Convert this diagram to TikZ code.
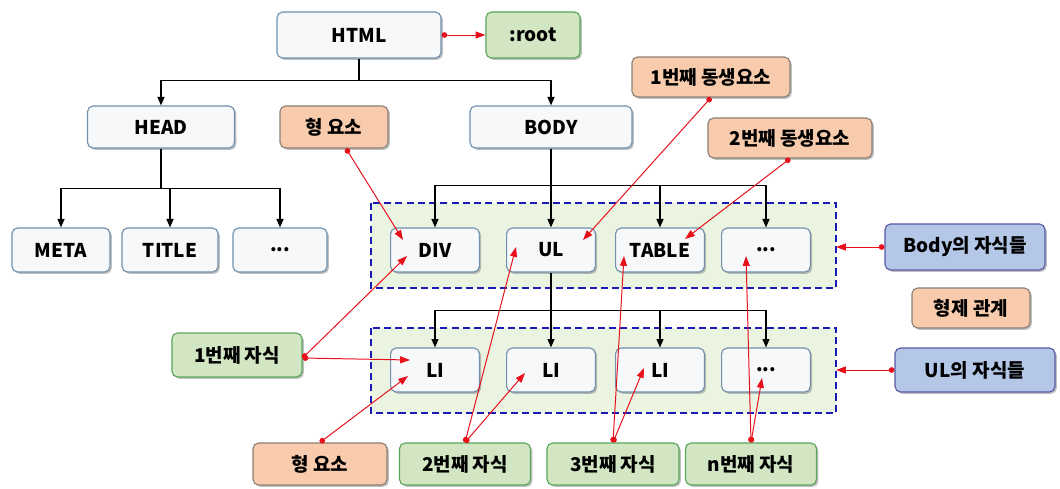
\documentclass[tikz,border=0pt]{standalone}
\usepackage{fontspec}
\setmainfont{Noto Sans CJK KR}
\usetikzlibrary{arrows.meta, shadows, calc}
\definecolor{nodefill}{HTML}{F6F8FA}
\definecolor{nodeline}{HTML}{7090AC}
\definecolor{orangefill}{HTML}{F8CBAD}
\definecolor{greenfill}{HTML}{D3E6C3}
\definecolor{bluefill}{HTML}{B4C7E7}
\definecolor{groupfill}{HTML}{EBF3E1}
\definecolor{groupline}{HTML}{1A1AB4}
\definecolor{linkred}{HTML}{E8101A}

\begin{document}
\begin{tikzpicture}[x=0.025cm, y=-0.025cm,
    elem/.style={draw=nodeline, line width=0.8pt, fill=nodefill, rounded corners=4pt,
      inner sep=0pt, minimum height=1.1cm, font=\fontsize{13.5}{15}\selectfont\bfseries,
      drop shadow={opacity=0.5, shadow xshift=1.3pt, shadow yshift=-1.3pt}},
    orange/.style={elem, fill=orangefill, draw=gray!80!brown},
    green/.style={elem, fill=greenfill, draw=gray!70!green},
    blue/.style={elem, fill=bluefill, draw=gray!70!blue},
    group/.style={draw=groupline, fill=groupfill, line width=1.1pt, dash pattern=on 5pt off 3pt},
    tree/.style={line width=0.8pt, -{Triangle[length=6pt, width=5pt]}},
    link/.style={linkred, line width=0.7pt, {Circle[length=4pt]}-{Triangle[length=7pt, width=5pt]}}]

  \useasboundingbox (0,0) rectangle (1060,488);

  \draw[group] (371,203) rectangle (836,288);
  \draw[group] (371,328) rectangle (836,413);

  \node[elem, minimum width=4.1cm, minimum height=1.15cm] (html) at (359,35) {HTML};
  \node[green, minimum width=2.35cm, minimum height=1.15cm] (root) at (533,35) {:root};

  \node[elem, minimum width=3.675cm, minimum height=1.05cm] (head) at (161,127) {HEAD};
  \node[orange, minimum width=2.7cm, minimum height=1.05cm] (elder) at (334,127) {형 요소};
  \node[elem, minimum width=4.05cm, minimum height=1.05cm] (body) at (551,127) {BODY};
  \node[orange, minimum width=3.95cm, minimum height=1.0cm] (sib1) at (711,77) {1번째 동생요소};
  \node[orange, minimum width=4.1cm, minimum height=1.0cm] (sib2) at (790,138) {2번째 동생요소};

  \node[elem, minimum width=2.45cm] (meta) at (61,250) {META};
  \node[elem, minimum width=2.4cm] (title) at (170,250) {TITLE};
  \node[elem, minimum width=2.35cm] (hmore) at (280,250) {...};

  \node[elem, minimum width=2.22cm] (div) at (435,250) {DIV};
  \node[elem, minimum width=2.22cm] (ul) at (551,250) {UL};
  \node[elem, minimum width=2.22cm] (table) at (660,250) {TABLE};
  \node[elem, minimum width=2.22cm] (bmore) at (766,250) {...};
  \node[blue, minimum width=4.0cm, minimum height=1.15cm] (bodykids) at (965,247) {Body의 자식들};
  \node[orange, minimum width=2.95cm, minimum height=1.0cm] (sibrel) at (971,308) {형제 관계};

  \node[elem, minimum width=2.22cm] (li1) at (435,370) {LI};
  \node[elem, minimum width=2.22cm] (li2) at (551,370) {LI};
  \node[elem, minimum width=2.22cm] (li3) at (660,370) {LI};
  \node[elem, minimum width=2.22cm] (limore) at (766,370) {...};
  \node[blue, minimum width=4.0cm] (ulkids) at (975,370) {UL의 자식들};

  \node[green, minimum width=3.25cm, minimum height=1.1cm] (kid1) at (237,355) {1번째 자식};
  \node[orange, minimum width=3.35cm, minimum height=1.05cm] (elder2) at (320,464) {형 요소};
  \node[green, minimum width=3.275cm, minimum height=1.05cm] (kid2) at (465,464) {2번째 자식};
  \node[green, minimum width=3.3cm, minimum height=1.05cm] (kid3) at (613,464) {3번째 자식};
  \node[green, minimum width=3.275cm, minimum height=1.05cm] (kidn) at (751,464) {n번째 자식};

  \draw[tree] (html.south) -- ++(0,22) coordinate (hb) -| (head);
  \draw[tree] (hb) -| (body);
  \draw[line width=0.8pt] (head.south) -- ++(0,40) coordinate (eb);
  \foreach \c in {meta,title,hmore}
    \draw[tree] (eb) -| (\c);
  \draw[line width=0.8pt] (body.south) -- ++(0,37) coordinate (bb);
  \foreach \c in {div,ul,table,bmore}
    \draw[tree] (bb) -| (\c);
  \draw[line width=0.8pt] (ul.south) -- ++(0,38) coordinate (ub);
  \foreach \c in {li1,li2,li3,limore}
    \draw[tree] (ub) -| (\c);

  \draw[link] (html.east) -- (root.west);
  \draw[link] ($(elder.south)+(12,0)$) -- ($(div)+(-32,-10)$);
  \draw[link] (sib1.south) -- ($(ul)+(32,-10)$);
  \draw[link] (sib2.south) -- ($(table)+(25,-11)$);
  \draw[link] (bodykids.west) -- (bodykids.west -| 836,0);
  \draw[link] (ulkids.west) -- (ulkids.west -| 836,0);
  \draw[link] ($(kid1.east)+(0,3)$) -- ($(div)+(-28,6)$);
  \draw[link] ($(kid1.east)+(0,3)$) -- ($(li1)+(-25,-10)$);
  \draw[link] (elder2.north) -- ($(li1)+(-27,6)$);
  \draw[link] (kid2.north) -- ($(ul)+(-35,-3)$);
  \draw[link] (kid2.north) -- ($(li2)+(-26,3)$);
  \draw[link] (kid3.north) -- ($(table)+(-36,6)$);
  \draw[link] (kid3.north) -- ($(li3)+(-16,-2)$);
  \draw[link] (kidn.north) -- ($(bmore)+(-20,6)$);
  \draw[link] (kidn.north) -- ($(limore)+(-4,8)$);

\end{tikzpicture}
\end{document}
